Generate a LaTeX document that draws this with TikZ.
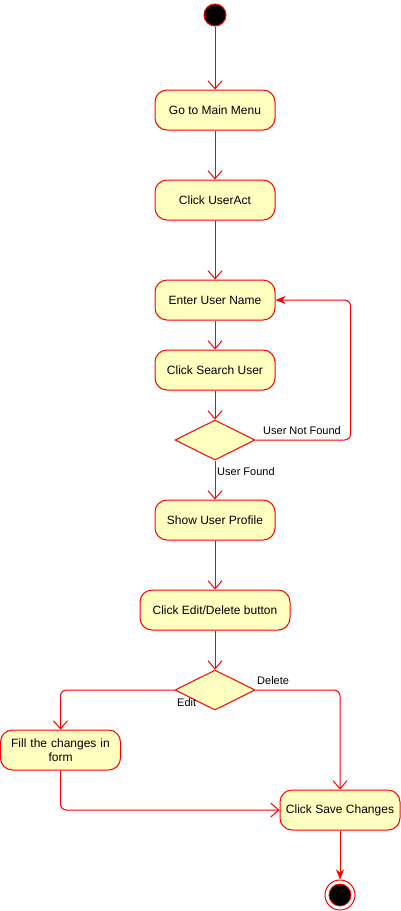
\documentclass[tikz,border=0pt]{standalone}
\usepackage{fontspec}
\setmainfont{Liberation Sans}
\usetikzlibrary{arrows.meta,shapes.geometric}
\definecolor{actfill}{HTML}{FFFFC0}
\definecolor{actline}{HTML}{FF0000}
\tikzset{
  act/.style={draw=actline, fill=actfill, rectangle, rounded corners=12pt, line width=1pt,
    minimum width=120pt, minimum height=40pt, inner sep=0pt, font=\fontsize{12}{14}\selectfont, text=black, align=center},
  dec/.style={draw=actline, fill=actfill, diamond, line width=1pt, minimum width=80pt, minimum height=40pt, inner sep=0pt, aspect=2},
  flow/.style={draw=actline, line width=1pt, -{Straight Barb[length=8pt,width=14pt,line width=1pt]}},
  flowf/.style={draw=actline, line width=1pt, -{Stealth[length=10pt,width=8pt,inset=3pt]}},
  lbl/.style={font=\fontsize{11}{13}\selectfont, text=black, inner sep=0pt, anchor=west}
}
\begin{document}
\begin{tikzpicture}[x=1pt,y=-1pt]
\useasboundingbox (0,0) rectangle (401,911);
\node[circle, draw=actline, fill=black, line width=1pt, minimum size=22pt, inner sep=0pt] (start) at (215,15) {};
\node[act] (menu) at (215,110) {Go to Main Menu};
\node[act] (useract) at (215,200) {Click UserAct};
\node[act] (enter) at (215,300) {Enter User Name};
\node[act] (search) at (215,370) {Click Search User};
\node[dec] (d1) at (215,440) {};
\node[act] (profile) at (215,520) {Show User Profile};
\node[act, minimum width=150pt] (editdel) at (215,610) {Click Edit/Delete button};
\node[dec] (d2) at (215,690) {};
\node[act, text width=116pt] (fill) at (60.5,750) {Fill the changes in\\form};
\node[act] (save) at (340,810) {Click Save Changes};
\node[circle, draw=actline, fill=white, line width=1pt, minimum size=30pt, inner sep=0pt] (endo) at (340,895) {};
\node[circle, draw=actline, fill=black, line width=0.8pt, minimum size=22pt, inner sep=0pt] (endi) at (340,895) {};

\draw[flow] (start) -- (menu);
\draw[flow] (menu) -- (useract);
\draw[flow] (useract) -- (enter);
\draw[flow] (enter) -- (search);
\draw[flow] (search) -- (d1.north);
\draw[flowf, rounded corners=6pt] (d1.east) -- ++(95,0) |- (enter.east);
\draw[flow] (d1.south) -- (profile);
\draw[flow] (profile) -- (editdel);
\draw[flow] (editdel) -- (d2.north);
\draw[flow, rounded corners=6pt] (d2.west) -| (fill.north);
\draw[flow, rounded corners=6pt] (d2.east) -| (save.north);
\draw[flow, rounded corners=6pt] (fill.south) |- (save.west);
\draw[flowf] (save) -- (endo);

\node[lbl] (lnf) at (263,431) {User Not Found};
\node[lbl] (lf) at (217,472) {User Found};
\node[lbl] (ldel) at (257,681) {Delete};
\node[lbl] (ledit) at (177,703) {Edit};
\end{tikzpicture}
\end{document}
